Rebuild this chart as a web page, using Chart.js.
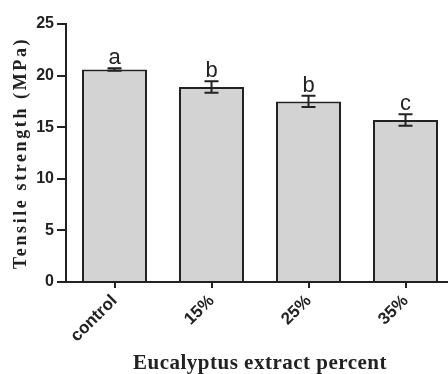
<!DOCTYPE html>
<html>
<head>
<meta charset="utf-8">
<script src="https://cdn.jsdelivr.net/npm/chart.js@4"></script>
<style>
  html, body { margin: 0; padding: 0; background: #fff; overflow: hidden; }
  #wrap { width: 456px; height: 374px; }
</style>
</head>
<body>
<div id="wrap"><canvas id="chart" width="456" height="374"></canvas></div>
<script>
const categories = ['control', '15%', '25%', '35%'];
const means = [20.6, 18.9, 17.5, 15.7];
const errors = [0.12, 0.55, 0.55, 0.55];
const letters = ['a', 'b', 'b', 'c'];
const yTicks = [0, 5, 10, 15, 20, 25];

const ink = '#222';

// error bars + significance letters
const errorBars = {
    id: 'errorBars',
    afterDatasetsDraw(chart) {
        const ctx = chart.ctx;
        const yScale = chart.scales.y;
        const meta = chart.getDatasetMeta(0);
        ctx.save();
        ctx.strokeStyle = ink;
        ctx.lineWidth = 2;
        meta.data.forEach((bar, i) => {
            const x = bar.x;
            const top = yScale.getPixelForValue(means[i] + errors[i]);
            const bottom = yScale.getPixelForValue(means[i] - errors[i]);
            ctx.beginPath();
            ctx.moveTo(x, top); ctx.lineTo(x, bottom);
            ctx.moveTo(x - 7, top); ctx.lineTo(x + 7, top);
            ctx.moveTo(x - 7, bottom); ctx.lineTo(x + 7, bottom);
            ctx.stroke();
            ctx.fillStyle = ink;
            ctx.font = '22px "Liberation Sans", Arial, sans-serif';
            ctx.textAlign = 'center';
            ctx.textBaseline = 'alphabetic';
            ctx.fillText(letters[i], x, top - 4);
        });
        ctx.restore();
    }
};

// axis titles, drawn with a little letter spacing like the figure
const axisTitles = {
    id: 'axisTitles',
    afterDraw(chart) {
        const ctx = chart.ctx;
        const area = chart.chartArea;
        ctx.save();
        ctx.fillStyle = ink;
        ctx.textAlign = 'center';
        ctx.textBaseline = 'alphabetic';
        ctx.font = 'bold 21px "Liberation Serif", "Times New Roman", serif';
        ctx.letterSpacing = '0.5px';
        ctx.fillText('Eucalyptus extract percent', 260, 369);
        ctx.translate(26, (area.top + area.bottom) / 2);
        ctx.rotate(-Math.PI / 2);
        ctx.font = 'bold 18px "Liberation Serif", "Times New Roman", serif';
        ctx.letterSpacing = '2.6px';
        ctx.fillText('Tensile strength (MPa)', 0, 0);
        ctx.restore();
    }
};

new Chart(document.getElementById('chart'), {
    type: 'bar',
    data: {
        labels: categories,
        datasets: [{
            data: means,
            backgroundColor: '#d3d3d3',
            borderColor: ink,
            borderWidth: 2,
            categoryPercentage: 1,
            barPercentage: 0.67
        }]
    },
    options: {
        responsive: false,
        animation: false,
        layout: { padding: { top: 24, right: 2, left: 0, bottom: 0 } },
        plugins: { legend: { display: false }, tooltip: { enabled: false } },
        scales: {
            x: {
                afterFit: (s) => { s.height = 92; },
                border: { display: true, color: ink, width: 2 },
                grid: { drawOnChartArea: false, drawTicks: true, tickLength: 6, offset: false, color: ink, lineWidth: 2 },
                ticks: {
                    color: ink,
                    padding: 3,
                    maxRotation: 45,
                    minRotation: 45,
                    font: { family: '"Liberation Sans", Arial, sans-serif', size: 17, weight: 'bold' }
                }
            },
            y: {
                min: 0,
                max: 25,
                afterFit: (s) => { s.width = 66; },
                afterBuildTicks: (s) => { s.ticks = yTicks.map(v => ({ value: v })); },
                border: { display: true, color: ink, width: 2 },
                grid: { drawOnChartArea: false, drawTicks: true, tickLength: 9, color: ink, lineWidth: 2 },
                ticks: {
                    color: ink,
                    padding: 3,
                    font: { family: '"Liberation Sans", Arial, sans-serif', size: 16, weight: 'bold' }
                }
            }
        }
    },
    plugins: [errorBars, axisTitles]
});
</script>
</body>
</html>
